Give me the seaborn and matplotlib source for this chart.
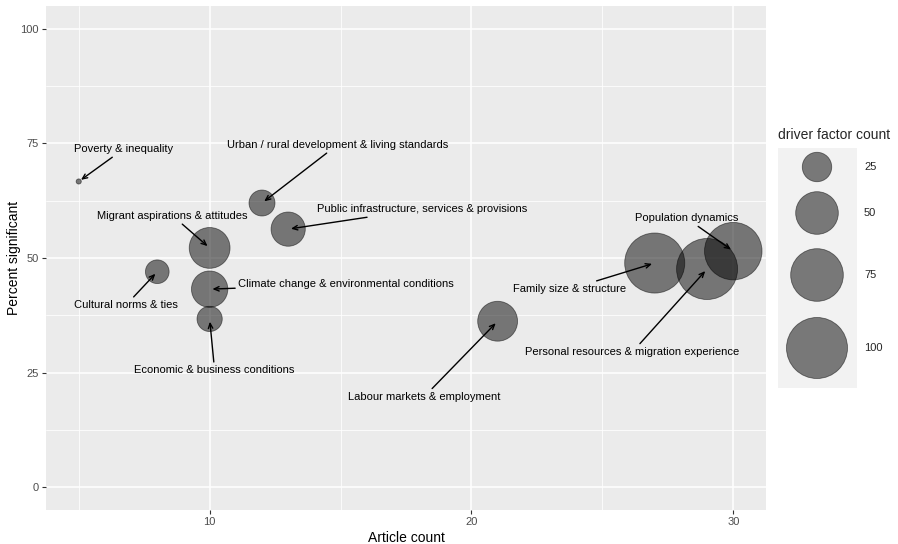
import matplotlib
matplotlib.use("Agg")
import matplotlib.pyplot as plt
import seaborn as sns
import pandas as pd
from matplotlib.ticker import MultipleLocator

# data
drivers = [
    "Poverty & inequality",
    "Urban / rural development & living standards",
    "Public infrastructure, services & provisions",
    "Migrant aspirations & attitudes",
    "Cultural norms & ties",
    "Climate change & environmental conditions",
    "Economic & business conditions",
    "Labour markets & employment",
    "Family size & structure",
    "Personal resources & migration experience",
    "Population dynamics",
]
article_count = [5, 12, 13, 10, 8, 10, 10, 21, 27, 29, 30]
percent_sig = [66.7, 62.0, 56.3, 52.2, 47.0, 43.2, 36.7, 36.2, 48.9, 47.6, 51.5]
factor_count = [3, 20, 33, 46, 17, 37, 19, 44, 97, 102, 89]
legend_values = [25, 50, 75, 100]

# where the repelled labels sit (data coords)
label_pos = {
    "Poverty & inequality": (6.72, 73.8),
    "Urban / rural development & living standards": (14.88, 74.7),
    "Public infrastructure, services & provisions": (18.11, 60.7),
    "Migrant aspirations & attitudes": (8.59, 59.2),
    "Cultural norms & ties": (6.8, 39.7),
    "Climate change & environmental conditions": (15.22, 44.3),
    "Economic & business conditions": (10.19, 25.5),
    "Labour markets & employment": (18.19, 19.7),
    "Family size & structure": (23.75, 43.2),
    "Personal resources & migration experience": (26.15, 29.5),
    "Population dynamics": (28.21, 58.7),
}

df = pd.DataFrame({"driver": drivers, "articles": article_count,
                   "pct": percent_sig, "factors": factor_count})

# size mapping (area linear in count)
V_LO, V_HI = 2.3, 100
S_LO, S_HI = 0.0, 1930.0


def to_s(v):
    return S_LO + (v - V_LO) / (V_HI - V_LO) * (S_HI - S_LO)


sns.set_theme(style="darkgrid", rc={
    "axes.facecolor": "#EBEBEB",
    "grid.color": "white",
    "axes.edgecolor": "none",
})
plt.rcParams["font.family"] = ["Liberation Sans", "DejaVu Sans"]

fig = plt.figure(figsize=(8.98, 5.44), dpi=100)
ax = fig.add_axes([46 / 898, 1 - 510 / 544, 720 / 898, 504 / 544])

sns.scatterplot(data=df, x="articles", y="pct", size="factors",
                sizes=(S_LO, S_HI), size_norm=(V_LO, V_HI),
                color="black", alpha=0.5, edgecolor="black", linewidth=0.6,
                legend=False, ax=ax, zorder=3)

for _, row in df.iterrows():
    tx, ty = label_pos[row["driver"]]
    ax.annotate(row["driver"], xy=(row["articles"], row["pct"]), xytext=(tx, ty),
                ha="center", va="center", fontsize=8, color="black", zorder=4,
                arrowprops=dict(arrowstyle="->,head_length=0.45,head_width=0.2",
                                color="black", lw=1.0, shrinkA=0, shrinkB=2))

ax.set_xlim(3.75, 31.25)
ax.set_ylim(-5, 105)
ax.xaxis.set_major_locator(MultipleLocator(10))
ax.xaxis.set_minor_locator(MultipleLocator(5))
ax.yaxis.set_major_locator(MultipleLocator(25))
ax.yaxis.set_minor_locator(MultipleLocator(12.5))
ax.grid(which="major", color="white", lw=1.1)
ax.grid(which="minor", color="white", lw=0.55)
ax.tick_params(which="major", length=3, width=0.8, color="#333333",
               labelsize=8, labelcolor="#4D4D4D", pad=2, bottom=True, left=True)
ax.tick_params(which="minor", length=0)
ax.set_xlabel("Article count", fontsize=10, color="black", labelpad=3)
ax.set_ylabel("Percent significant", fontsize=10, color="black", labelpad=0)
for s in ax.spines.values():
    s.set_visible(False)

# legend drawn in its own little axes, pixel-based coordinates
lax = fig.add_axes([778 / 898, 1 - 388 / 544, 79 / 898, 240 / 544])
lax.set_xlim(778, 857)
lax.set_ylim(388, 148)
lax.set_facecolor("#F2F2F2")
lax.grid(False)
lax.set_xticks([])
lax.set_yticks([])
for s in lax.spines.values():
    s.set_visible(False)
key_y = [167, 213, 275, 348]
lax.scatter([817] * len(legend_values), key_y, s=[to_s(v) for v in legend_values],
            color="black", alpha=0.5, edgecolor="black", linewidth=0.6, clip_on=False)
for v, y in zip(legend_values, key_y):
    lax.text(864, y, str(v), ha="left", va="center", fontsize=8, clip_on=False)
lax.text(778, 135, "driver factor count", ha="left", va="center", fontsize=10,
         clip_on=False)

fig.savefig("out.png", dpi=100)
